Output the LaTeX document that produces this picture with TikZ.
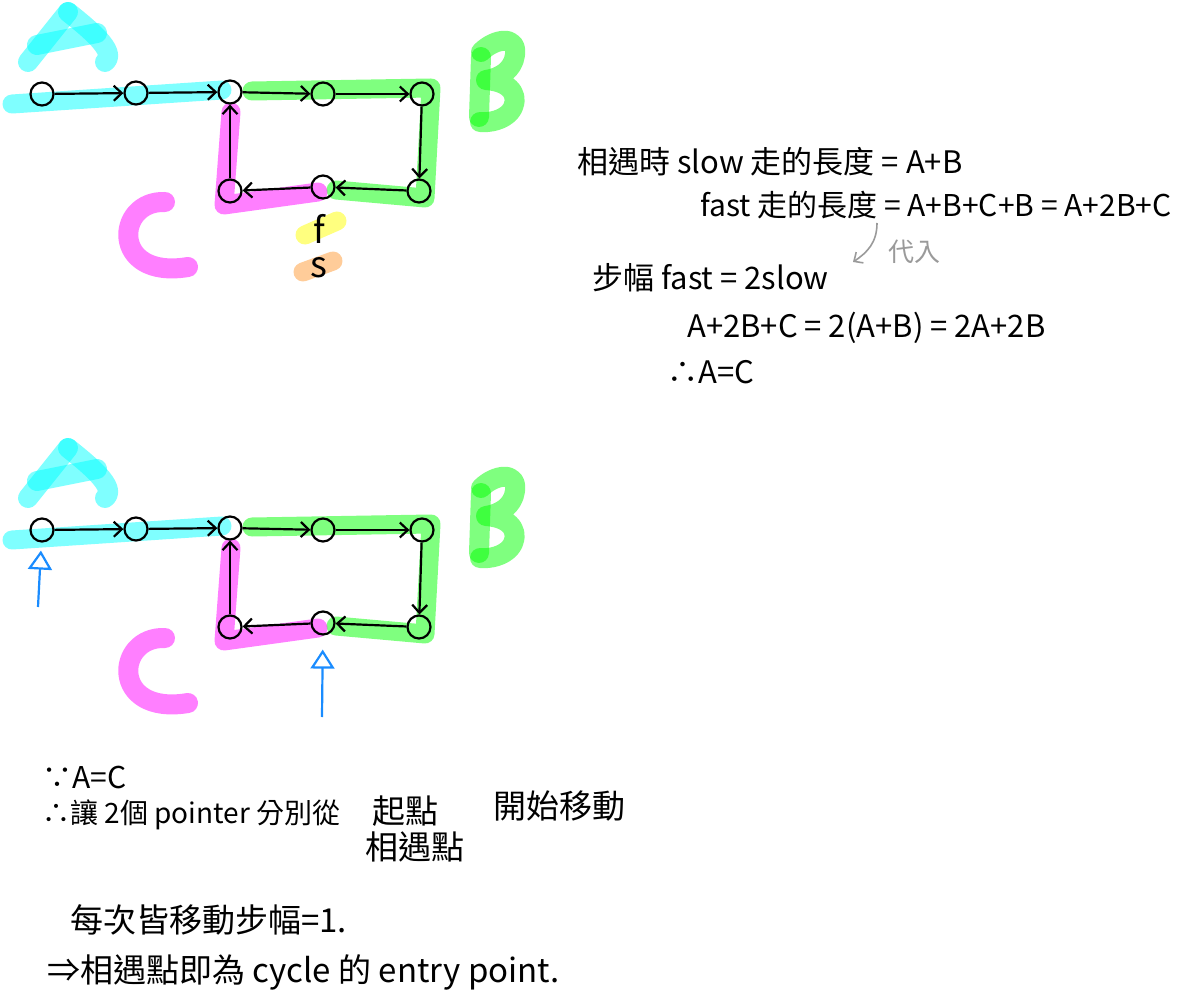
\documentclass[tikz,border=0pt]{standalone}
\usepackage{fontspec}
\setmainfont{Noto Sans CJK TC}
\usetikzlibrary{arrows.meta}
\definecolor{hlcyan}{HTML}{00FFFF}
\definecolor{hlgreen}{HTML}{00FF00}
\definecolor{hlpink}{HTML}{FF00FF}
\definecolor{hlyellow}{HTML}{FFFF00}
\definecolor{hlorange}{HTML}{FF9933}
\definecolor{penblue}{HTML}{1A8CFF}
\definecolor{pengray}{HTML}{9A9A9A}
\tikzset{
  listnode/.style={
    circle,
    draw=black,
    line width=2.2pt,
    minimum size=23pt,
    inner sep=0pt
  },
  link/.style={
    -{Straight Barb[length=8pt,width=15pt]},
    line width=2.2pt
  },
  hlband/.style={
    line width=19pt,
    line cap=round,
    line join=round,
    draw opacity=0.5
  },
  hlletter/.style={
    line width=20pt,
    line cap=round,
    line join=round,
    draw opacity=0.5
  },
  pointer/.style={
    -{Triangle[open,length=19pt,width=24pt]},
    line width=2.2pt,
    draw=penblue
  },
  subst/.style={
    -{Straight Barb[length=7pt,width=13pt]},
    line width=1.6pt,
    draw=pengray
  },
  topnote/.style={
    anchor=west,
    inner sep=0pt,
    font=\fontsize{31}{36}\selectfont
  },
  botnote/.style={
    anchor=west,
    inner sep=0pt,
    font=\fontsize{33}{40}\selectfont
  }
}

\begin{document}
\begin{tikzpicture}[x=1pt, y=-1pt]
\useasboundingbox (0,0) rectangle (1184,1000);

% the list with its cycle, drawn twice (t = top, b = bottom)
\foreach \dy/\p in {0/t, 436/b}{
  \begin{scope}[shift={(0,\dy)}]
    % highlighter bands
    \draw[hlband, hlcyan] (12,104) -- (222,90);
    \draw[hlband, hlgreen] (252,91) -- (431,88) -- (425,198) -- (336,190);
    \draw[hlband, hlpink] (231,112) -- (224,205) -- (318,192);
    % letters A, B, C
    \draw[hlletter, hlcyan] (28,62) -- (68,12);
    \draw[hlletter, hlcyan] (68,12) .. controls (88,28) and (118,52) .. (105,62);
    \draw[hlletter, hlcyan] (37,45) -- (97,33);
    \draw[hlletter, hlgreen] (481,57) -- (479,117);
    \draw[hlletter, hlgreen] (481,52) .. controls (495,38) and (518,35) .. (515,55)
      .. controls (513,70) and (500,78) .. (486,80)
      .. controls (515,82) and (520,100) .. (510,112)
      .. controls (503,120) and (490,123) .. (480,122);
    \draw[hlletter, hlpink] (165,202) .. controls (115,200) and (110,280) .. (188,267);
    % nodes
    \node[listnode] (\p1) at (42,94) {};
    \node[listnode] (\p2) at (136,93) {};
    \node[listnode] (\p3) at (230,92) {};
    \node[listnode] (\p4) at (323,94) {};
    \node[listnode] (\p5) at (422,94) {};
    \node[listnode] (\p6) at (419,191) {};
    \node[listnode] (\p7) at (323,187) {};
    \node[listnode] (\p8) at (230,191) {};
    \foreach \a/\b in {1/2,2/3,3/4,4/5,5/6,6/7,7/8,8/3}
      \draw[link] (\p\a) -- (\p\b);
  \end{scope}
}

% fast and slow meet here
\draw[hlband, hlyellow] (305,235) -- (337,221);
\draw[hlband, hlorange] (303,272) -- (333,261);
\node[font=\fontsize{36}{40}\selectfont, inner sep=0pt] (fastmark) at (319,229) {f};
\node[font=\fontsize{36}{40}\selectfont, inner sep=0pt] (slowmark) at (319,268) {s};

% the two pointers
\coordinate (ptrstart) at (38,607);
\coordinate (ptrmeet) at (322,717);
\draw[pointer, shorten >=8pt] (ptrstart) -- (b1);
\draw[pointer, shorten >=14pt] (ptrmeet) -- (b7);

% working on the right
\node[topnote] (slowlen) at (577,162) {相遇時 slow 走的長度 = A+B};
\node[topnote, font=\fontsize{30}{36}\selectfont] (fastlen) at (700,205) {fast 走的長度 = A+B+C+B = A+2B+C};
\node[topnote] (stride) at (592,278) {步幅 fast = 2slow};
\node[topnote] (equate) at (687,328) {A+2B+C = 2(A+B) = 2A+2B};
\node[topnote] (result) at (667,372) {∴A=C};
\coordinate (subfrom) at (877,223);
\coordinate (subto) at (853,262);
\draw[subst] (subfrom) .. controls (877,242) and (868,252) .. (subto);
\node[topnote, text=pengray, font=\fontsize{26}{30}\selectfont] (sublabel) at (888,252) {代入};

% conclusion below
\node[botnote, font=\fontsize{30}{36}\selectfont] (because) at (42,778) {∵A=C};
\node[botnote, font=\fontsize{28}{34}\selectfont] (therefore) at (42,815) {∴讓 2個 pointer 分別從};
\node[botnote] (startpt) at (372,811) {起點};
\node[botnote] (meetpt) at (365,847) {相遇點};
\node[botnote] (begin) at (493,806) {開始移動};
\node[botnote] (eachstep) at (70,920) {每次皆移動步幅=1.};
\node[botnote] (entry) at (47,972) {⇒相遇點即為 cycle 的 entry point.};
\end{tikzpicture}
\end{document}
